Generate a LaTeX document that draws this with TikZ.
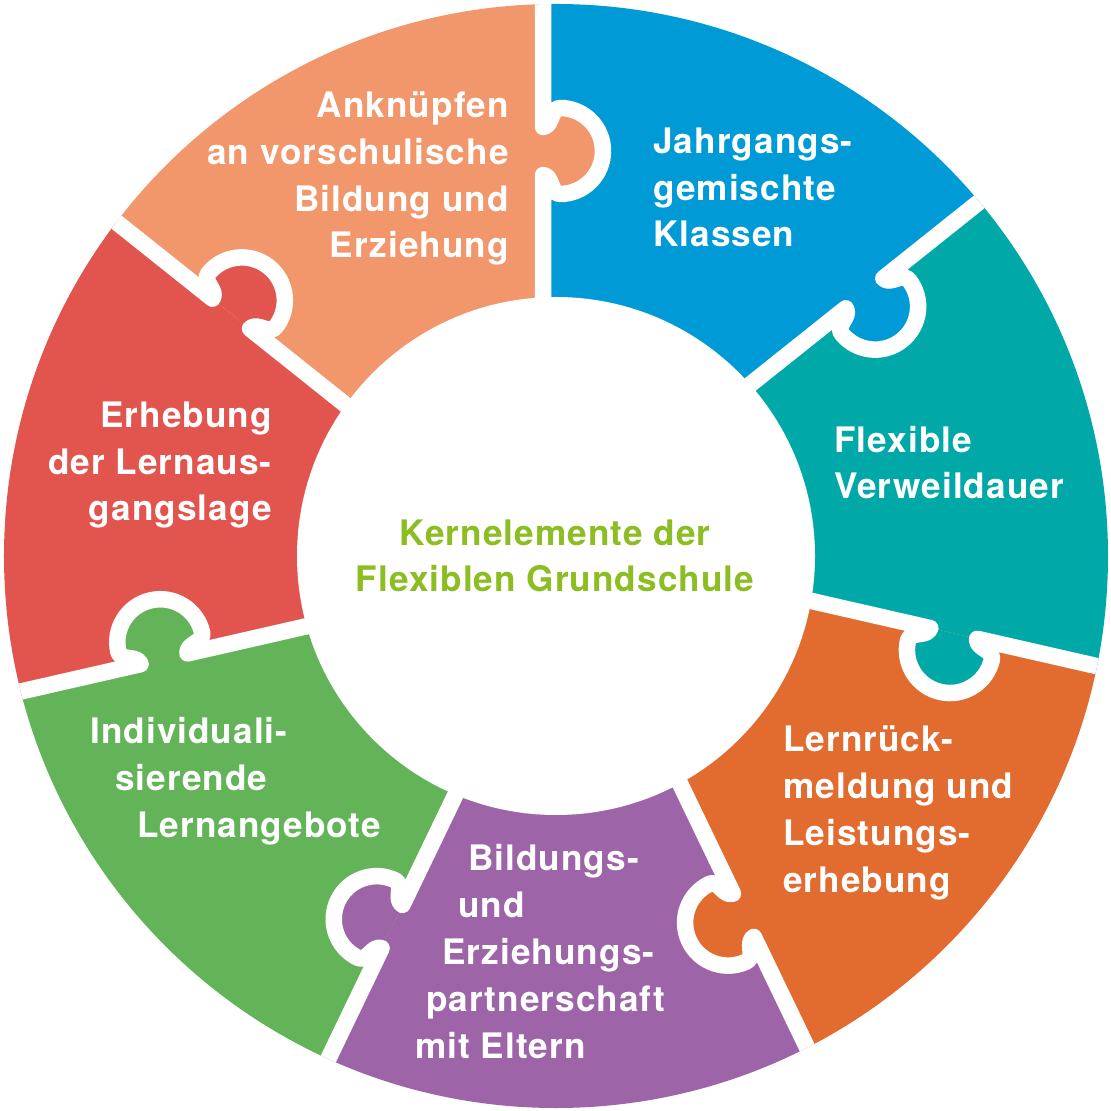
\documentclass[tikz,border=0pt]{standalone}
\usepackage{fontspec}
\setmainfont{TeX Gyre Heros}[LetterSpace=3]
\usetikzlibrary{calc}
\definecolor{ankorange}{RGB}{242,150,108}
\definecolor{jahrblue}{RGB}{0,155,214}
\definecolor{flexteal}{RGB}{0,169,167}
\definecolor{lernorange}{RGB}{226,107,48}
\definecolor{bildpurple}{RGB}{157,101,168}
\definecolor{indivgreen}{RGB}{99,180,89}
\definecolor{erhebred}{RGB}{226,84,78}
\definecolor{kerngreen}{RGB}{140,189,35}

\begin{document}
\begin{tikzpicture}[x=0.02cm, y=0.02cm,
    gap/.style={white, line width=0.33cm, line join=round},
    piecelabel/.style={text=white, inner sep=0pt, font=\bfseries\fontsize{20}{26.7}\selectfont},
    corelabel/.style={text=kerngreen, inner sep=0pt, align=center, font=\bfseries\fontsize{20}{26.2}\selectfont}]
    \def\rout{552}
    \def\rin{259}
    \def\off{13}
    \useasboundingbox (-556,-555) rectangle (555,556);
    \begin{scope}
      \clip (0,0) circle (\rout);
      \foreach \lo/\hi/\col in {38.57/90/jahrblue, -12.86/38.57/flexteal, -64.29/-12.86/lernorange,
          -115.71/-64.29/bildpurple, -167.14/-115.71/indivgreen, -218.57/-167.14/erhebred, -270/-218.57/ankorange}{
        \pgfmathsetmacro{\angmid}{(\lo+\hi)/2}
        \fill[\col] ($(\lo+90:\off)$) -- ($(\lo:640)+(\lo+90:\off)$) -- (\angmid:760)
          -- ($(\hi:640)+(\hi+90:\off)$) -- ($(\hi+90:\off)$) -- cycle;
      }
      \foreach \ang/\col in {90/ankorange, 38.57/jahrblue, -12.86/flexteal, -64.29/lernorange,
          -115.71/bildpurple, -167.14/indivgreen, -218.57/erhebred}{
        \begin{scope}[rotate=\ang]
          \fill[\col] (381,\off) to[out=-95,in=90] (362,-4) arc[start angle=180, end angle=360, radius=43]
            to[out=90,in=-85] (429,\off) -- cycle;
          \draw[gap] (200,\off) -- (381,\off) to[out=-95,in=90] (362,-4)
            arc[start angle=180, end angle=360, radius=43] to[out=90,in=-85] (429,\off) -- (600,\off);
        \end{scope}
      }
    \end{scope}
    \fill[white] (0,0) circle (\rin);
    \node[piecelabel, align=right, anchor=base east] (ankn) at (-47,298) {Anknüpfen\\an vorschulische\\Bildung und\\Erziehung};
    \node[piecelabel, align=left, anchor=base west] (jahr) at (97,309) {Jahrgangs-\\gemischte\\Klassen};
    \node[piecelabel, align=left, anchor=base west] (flex) at (278,57) {Flexible\\Verweildauer};
    \node[piecelabel, align=left, anchor=base west] (lern) at (227,-336) {Lernrück-\\meldung und\\Leistungs-\\erhebung};
    \node[piecelabel, align=left, anchor=base west] (bild) at (-141,-502) {\hspace*{1.06cm}Bildungs-\\\hspace*{0.86cm}und\\\hspace*{0.54cm}Erziehungs-\\\hspace*{0.22cm}partnerschaft\\mit Eltern};
    \node[piecelabel, align=left, anchor=base west] (indiv) at (-466,-281) {Individuali-\\\hspace*{0.5cm}sierende\\\hspace*{0.94cm}Lernangebote};
    \node[piecelabel, align=right, anchor=base east] (erheb) at (-284,35) {Erhebung\\der Lernaus-\\gangslage};
    \node[corelabel, anchor=base] (kern) at (-1,-36) {Kernelemente der\\Flexiblen Grundschule};
\end{tikzpicture}
\end{document}
